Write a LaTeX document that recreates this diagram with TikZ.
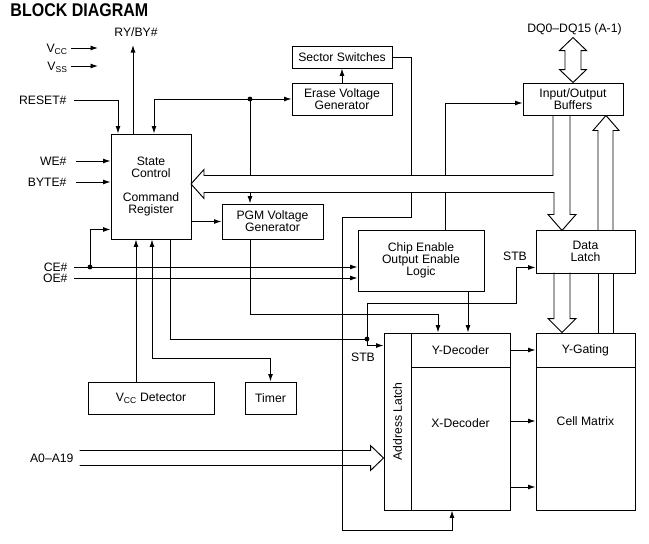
\documentclass[tikz,border=0pt]{standalone}
\usepackage{fontspec}
\setmainfont{Liberation Sans}
\usetikzlibrary{arrows.meta}

\tikzset{
  blk/.style={draw, inner sep=0pt, align=center, font=\fontsize{12.2}{11.8}\selectfont},
  pinlbl/.style={anchor=east, inner sep=0pt, text height=8.6pt, text depth=0pt, font=\fontsize{12.2}{12}\selectfont},
  txt/.style={inner sep=0pt, align=center, font=\fontsize{12.2}{12}\selectfont},
}

\begin{document}
\begin{tikzpicture}[x=1pt, y=-1pt, line width=0.95pt, >={Latex[length=7.5pt,width=5pt]}]
\useasboundingbox (0,0) rectangle (649,544);
\node [anchor=west, inner sep=0pt, font=\fontsize{16}{18}\selectfont\bfseries] (title) at (10,10) {\scalebox{1}[1.15]{BLOCK DIAGRAM}};

% the blocks
\node [blk, minimum width=80pt, minimum height=105pt] (state) at (151,186.5) {State\\Control\\[11.8pt]Command\\Register};
\node [blk, minimum width=100pt, minimum height=22pt] (sector) at (342,57) {Sector Switches};
\node [blk, minimum width=100pt, minimum height=32pt] (erase) at (342,99) {Erase Voltage\\Generator};
\node [blk, minimum width=101pt, minimum height=35pt] (pgm) at (272.5,221.5) {PGM Voltage\\Generator};
\node [blk, minimum width=100pt, minimum height=32pt] (iob) at (573,99) {Input/Output\\Buffers};
\node [blk, minimum width=126pt, minimum height=61pt] (ceol) at (421,260.5) {Chip Enable\\Output Enable\\Logic};
\node [blk, minimum width=99pt, minimum height=43pt] (dlatch) at (585.5,251.5) {Data\\Latch};
\node [blk, minimum width=27pt, minimum height=177pt] (alatch) at (397.5,421.5) {};
\node [blk, minimum width=99pt, minimum height=34pt] (ydec) at (460.5,350) {Y-Decoder};
\node [blk, minimum width=99pt, minimum height=143pt] (xdec) at (460.5,438.5) {};
\node [blk, minimum width=99pt, minimum height=34pt] (ygate) at (585.5,350) {Y-Gating};
\node [blk, minimum width=99pt, minimum height=143pt] (cells) at (585.5,438.5) {};
\node [blk, minimum width=126pt, minimum height=32pt] (vccdet) at (151,398) {V\textsubscript{CC} Detector};
\node [blk, minimum width=51pt, minimum height=32pt] (timer) at (270.5,398) {Timer};
\node [txt, rotate=90] (altxt) at (alatch) {Address Latch};
\node [txt] (xdectxt) at ([yshift=15.5pt]xdec.center) {X-Decoder};
\node [txt] (cellstxt) at ([yshift=17.5pt]cells.center) {Cell Matrix};

% pins and labels
\node [pinlbl] (vcc) at (68,48) {V\textsubscript{CC}};
\node [pinlbl] (vss) at (68,66) {V\textsubscript{SS}};
\node [pinlbl] (reset) at (67,100) {RESET\#};
\node [pinlbl] (we) at (67,161) {WE\#};
\node [pinlbl] (byte) at (67,182) {BYTE\#};
\node [pinlbl] (ce) at (68,267) {CE\#};
\node [pinlbl] (oe) at (68,278) {OE\#};
\node [pinlbl] (addrpin) at (74,458) {A0--A19};
\node [txt] (ryby) at (136,32) {RY/BY\#};
\node [txt] (dq) at (574.5,29) {DQ0--DQ15 (A-1)};
\node [txt] (stba) at (515,256) {STB};
\node [txt] (stbb) at (363,357) {STB};

\coordinate (rybytip) at (133,45);
\coordinate (vccend) at (98,48);
\coordinate (vssend) at (98,66);
\coordinate (bt) at (0,175);
\coordinate (bb) at (0,192);
\coordinate (j1) at (250,99);
\coordinate (j2) at (90,267);
\coordinate (j3) at (270.5,358);
\coordinate (j4) at (438,314);
\coordinate (j5) at ([xshift=24pt]ceol.north);
\coordinate (j6) at (411,217);
\coordinate (j7) at (342,530);
\coordinate (stb1) at (367,339);
\coordinate (stb2) at (516,303);

% control lines
\draw [->] (state.north -| rybytip) -- (rybytip);
\draw [->] ([xshift=3pt]vcc.east) -- (vccend);
\draw [->] ([xshift=3pt]vss.east) -- (vssend);
\draw [->] ([xshift=7pt]reset.east) -| ([xshift=-33pt]state.north);
\draw [<->] ([xshift=3pt]state.north) |- (erase.west);
\draw (j1) -- (j1 |- bt);
\draw [->] (j1 |- bb) -- (j1 |- pgm.north);
\draw [->] (state.east |- pgm.west) -- (pgm.west);
\draw [->] ([xshift=9pt]we.east) -- (we.east -| state.west);
\draw [->] ([xshift=9pt]byte.east) -- (byte.east -| state.west);
\draw [->] ([xshift=6pt]ce.east) -- (ce.east -| ceol.west);
\draw [->] ([xshift=6pt]oe.east) -- (oe.east -| ceol.west);
\draw [->] (j2) |- ([yshift=10pt]state.south west);
\draw [->] ([xshift=-15pt]vccdet.north) -- ([xshift=-15pt]state.south);
\draw [<->] ([xshift=1pt]state.south) |- (j3) -- (timer.north);
\draw [->] ([xshift=19pt]state.south) |- (stb1) |- ([yshift=-13pt]alatch.north west);
\draw [->] (stb1) |- (stb2) |- ([yshift=6pt]dlatch.south west);
\draw [->] ([xshift=-22.5pt]pgm.south) |- (j4) -- (j4 |- ydec.north);
\draw [->] ([xshift=47pt]ceol.south) -- ([xshift=47pt]ceol.south |- ydec.north);
\draw (j5) -- (j5 |- bb);
\draw [->] (j5 |- bt) |- ([yshift=-4pt]iob.west);
\draw (sector.east) -| (j6 |- bt);
\draw [->] (j6 |- bb) -- (j6) -| (j7) -| ([xshift=-8.5pt]xdec.south);
\draw [->] (erase.north) -- (sector.south);
\draw [->] (ydec.east) -- (ygate.west);
\draw [->] ([yshift=17.5pt]xdec.east) -- ([yshift=17.5pt]cells.west);
\draw [->] ([yshift=-48.5pt]xdec.east) -- ([yshift=-48.5pt]cells.west);
\draw ([xshift=12.5pt]dlatch.south) -- ([xshift=12.5pt]ygate.north);
\draw ([xshift=27.5pt]dlatch.south) -- ([xshift=27.5pt]ygate.north);
\fill (j1) circle (2.4pt);
\fill (j2) circle (2.4pt);
\fill (stb1) circle (2.4pt);

% the data bus
\draw ([xshift=-20pt]iob.south) -- ++(0,60) -- ++(-349,0) -- ++(0,-6) -- ++(-13,14.5) -- ++(13,14.5) -- ++(0,-6) -- ++(350,0) -- ++(0,22) -- ++(-6,0) -- ++(14,16) -- ++(14,-16) -- ++(-6,0) -- ++(0,-99);
\coordinate (uptip) at ([xshift=33pt]iob.south);
\draw (uptip) -- ++(-13,15) -- ++(5,0) -- ++(0,100);
\draw (uptip) -- ++(13,15) -- ++(-6,0) -- ++(0,100);
\coordinate (dntip) at ([xshift=-23.5pt]ygate.north);
\draw (dntip) -- ++(-14,-14) -- ++(6,0) -- ++(0,-46);
\draw (dntip) -- ++(14,-14) -- ++(-6,0) -- ++(0,-46);
\draw (iob.north) -- ++(-13.5,-13) -- ++(5.5,0) -- ++(0,-19) -- ++(-5.5,0) -- ++(13.5,-13) -- ++(13.5,13) -- ++(-5.5,0) -- ++(0,19) -- ++(5.5,0) -- cycle;

% the address bus
\coordinate (atip) at ([yshift=-36.5pt]alatch.west);
\draw (atip) -- ++(-13,-12.5) -- ++(0,5) -- ++(-291,0);
\draw (atip) -- ++(-13,12.5) -- ++(0,-5) -- ++(-291,0);

\end{tikzpicture}
\end{document}
